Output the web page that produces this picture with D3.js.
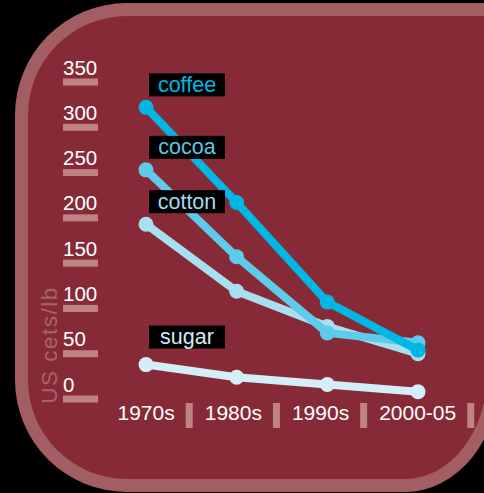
<!DOCTYPE html>
<html>
<head>
<meta charset="utf-8">
<script src="https://cdn.jsdelivr.net/npm/d3@7"></script>
<style>
  html, body { margin: 0; padding: 0; background: #000; }
  svg { display: block; }
  text { font-family: "Liberation Sans", Arial, Helvetica, sans-serif; }
</style>
</head>
<body>
<script>
// ---- data ----
const categories = ["1970s", "1980s", "1990s", "2000-05"];
const seriesNames = ["coffee", "cocoa", "cotton", "sugar"];
const coffee = [322, 217, 107, 54];
const cocoa  = [253, 157, 73, 62];
const cotton = [193, 119, 80, 50];
const sugar  = [38, 24, 16, 8];
const yTicks = [0, 50, 100, 150, 200, 250, 300, 350];
const yTitle = "US cets/lb";

// ---- styles ----
const W = 484, H = 493;
const colors = { coffee: "#00b7e3", cocoa: "#5ecbea", cotton: "#a8dff1", sugar: "#d4eef8" };
const textColors = { coffee: "#00b5e2", cocoa: "#5cc6e4", cotton: "#a3d9ea", sugar: "#d2ecf5" };
const ringColor = "#a35e63", fillColor = "#862a37", tickColor = "#c08384";

const svg = d3.select("body").append("svg").attr("width", W).attr("height", H);
svg.append("rect").attr("width", W).attr("height", H).attr("fill", "#000");

// panel shape
function panelPath(l, t, r, b, rTL, rBLx, rBRx, rBRy) {
  return `M${l + rTL},${t} L${r},${t} L${r},${b - rBRy} A${rBRx},${rBRy} 0 0 1 ${r - rBRx},${b}` +
         ` L${l + rBLx},${b} A${rBLx},${rBLx} 0 0 1 ${l},${b - rBLx} L${l},${t + rTL} A${rTL},${rTL} 0 0 1 ${l + rTL},${t} Z`;
}
svg.append("path").attr("d", panelPath(15, 3, 500, 492, 112, 112, 95, 118)).attr("fill", ringColor);
svg.append("path").attr("d", panelPath(28, 16, 487, 479, 99, 99, 82, 105)).attr("fill", fillColor);

// scales
const y = d3.scaleLinear().domain([0, 350]).range([399, 82]);
const x = d3.scalePoint().domain(categories).range([146, 418]);

// y axis ticks: bars + labels
const yAxis = svg.append("g");
yTicks.forEach(v => {
  yAxis.append("rect").attr("x", 63).attr("y", y(v) - 3.5).attr("width", 35).attr("height", 7).attr("fill", tickColor);
  yAxis.append("text").attr("x", 63).attr("y", y(v) - 7.5).attr("fill", "#fff")
    .attr("font-size", 20.5).text(v);
});

// y title
svg.append("text").attr("transform", "translate(57,345) rotate(-90)")
  .attr("text-anchor", "middle").attr("fill", "#a86368").attr("font-size", 22.5)
  .attr("letter-spacing", 1.5).text(yTitle);

// x axis labels with separators (inline flow)
const xAxis = svg.append("g");
let cx = 117.5;
categories.forEach(c => {
  const t = xAxis.append("text").attr("x", cx).attr("y", 419.5).attr("fill", "#fff")
    .attr("font-size", 21).text(c);
  const w = t.node().getComputedTextLength();
  cx += w + 11;
  xAxis.append("rect").attr("x", cx).attr("y", 403).attr("width", 7).attr("height", 25).attr("fill", tickColor);
  cx += 7 + 12;
});

// series
const seriesData = { coffee, cocoa, cotton, sugar };
const line = d3.line().x((d, i) => x(categories[i])).y(d => y(d));
const drawOrder = ["sugar", "cotton", "cocoa", "coffee"];
drawOrder.forEach(name => {
  const vals = seriesData[name];
  const g = svg.append("g");
  g.append("path").attr("d", line(vals)).attr("fill", "none").attr("stroke", colors[name])
    .attr("stroke-width", 8).attr("stroke-linejoin", "round");
  g.selectAll("circle").data(vals).join("circle")
    .attr("cx", (d, i) => x(categories[i])).attr("cy", d => y(d)).attr("r", 7.5)
    .attr("fill", colors[name]);
});

// labels
const labelExtra = { coffee: 0, cocoa: 0, cotton: 0, sugar: -5 };
seriesNames.forEach(name => {
  const v0 = seriesData[name][0];
  const top = y(v0) - 34 + labelExtra[name];
  const left = x(categories[0]) + 3;
  svg.append("rect").attr("x", left).attr("y", top).attr("width", 76).attr("height", 23).attr("fill", "#000");
  svg.append("text").attr("x", left + 38).attr("y", top + 18.5).attr("text-anchor", "middle")
    .attr("fill", textColors[name]).attr("font-size", 21.5).text(name);
});
</script>
</body>
</html>
